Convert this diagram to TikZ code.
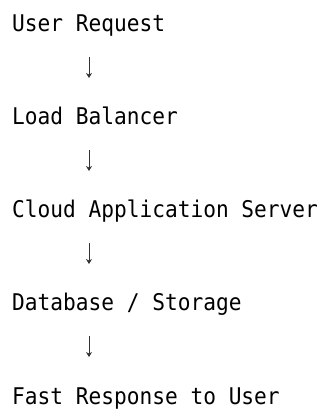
\documentclass[tikz,border=0pt]{standalone}
\usepackage{fontspec}
\usetikzlibrary{arrows.meta}
\newfontfamily\monofont[FakeStretch=0.92]{DejaVu Sans Mono}

\begin{document}
\begin{tikzpicture}[x=1pt,y=1pt,
    stage/.style={anchor=base west,inner sep=0pt,font=\monofont\fontsize{23}{23}\selectfont},
    flow/.style={draw=black!80,line width=0.7pt,-{Stealth[length=5pt,width=6pt]}}]
      \useasboundingbox (0,0) rectangle (325,412);
      \node [stage] (request) at (12,380) {User Request};
      \node [stage] (balancer) at (12,287) {Load Balancer};
      \node [stage] (server) at (12,194) {Cloud Application Server};
      \node [stage] (storage) at (12,101) {Database / Storage};
      \node [stage] (response) at (12,8) {Fast Response to User};
      \coordinate (r1) at (89,355); \coordinate (b1) at (89,334);
      \coordinate (r2) at (89,262); \coordinate (b2) at (89,241);
      \coordinate (r3) at (89,169); \coordinate (b3) at (89,148);
      \coordinate (r4) at (89,76);  \coordinate (b4) at (89,55);
      \draw [flow] (r1) -- (b1);
      \draw [flow] (r2) -- (b2);
      \draw [flow] (r3) -- (b3);
      \draw [flow] (r4) -- (b4);
    \end{tikzpicture}
\end{document}
